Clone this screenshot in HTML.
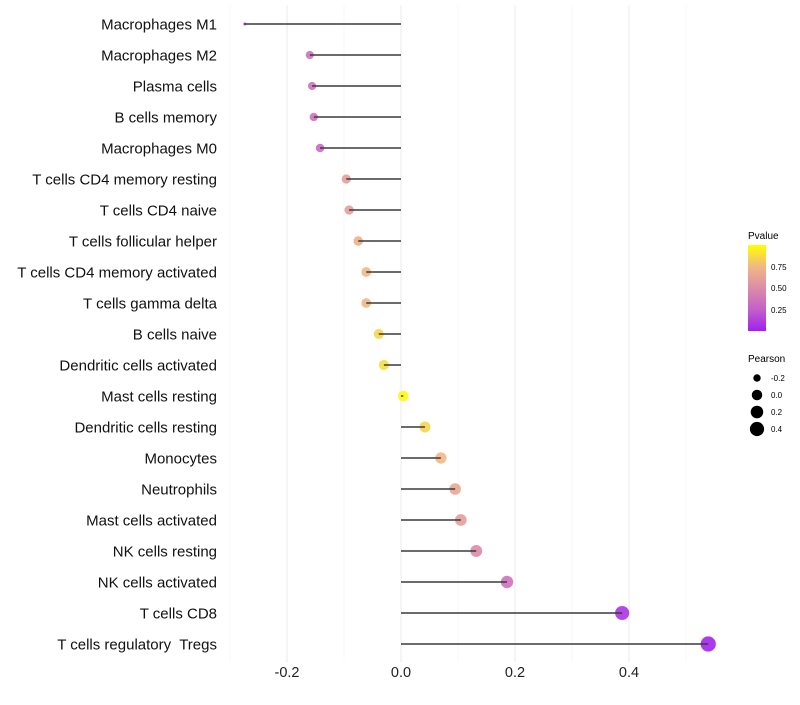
<!DOCTYPE html>
<html><head><meta charset="utf-8"><style>
body{margin:0;background:#fff;font-family:"Liberation Sans",sans-serif;}
svg text{font-family:"Liberation Sans",sans-serif;white-space:pre;}
</style></head><body>
<svg id="chart" width="800" height="700">
<defs><linearGradient id="pg" x1="0" y1="1" x2="0" y2="0">
<stop offset="0" stop-color="#a020f0"/><stop offset="0.25" stop-color="#c460c8"/><stop offset="0.5" stop-color="#dc8ca8"/><stop offset="0.75" stop-color="#f0b884"/><stop offset="1" stop-color="#ffff00"/>
</linearGradient></defs>
<g id="grid"></g><g id="dots"></g><g id="marks"></g><g id="labels"></g>
<g>
<text x="748" y="239" font-size="10">Pvalue</text>
<rect x="748" y="245" width="18" height="86" fill="url(#pg)"/>
<text x="771" y="270" font-size="8">0.75</text>
<text x="771" y="291" font-size="8">0.50</text>
<text x="771" y="313" font-size="8">0.25</text>
</g>
<g id="sizeLegend">
<text x="748" y="362" font-size="10">Pearson</text>
</g>
</svg>
<script>
const categories=["Macrophages M1","Macrophages M2","Plasma cells","B cells memory","Macrophages M0","T cells CD4 memory resting","T cells CD4 naive","T cells follicular helper","T cells CD4 memory activated","T cells gamma delta","B cells naive","Dendritic cells activated","Mast cells resting","Dendritic cells resting","Monocytes","Neutrophils","Mast cells activated","NK cells resting","NK cells activated","T cells CD8","T cells regulatory  Tregs"];
const pearson=[-0.274,-0.160,-0.156,-0.153,-0.142,-0.096,-0.091,-0.075,-0.061,-0.061,-0.039,-0.030,0.004,0.042,0.070,0.095,0.105,0.132,0.186,0.388,0.539];
const pvalue=[0.05,0.35,0.35,0.35,0.3,0.6,0.6,0.7,0.75,0.75,0.85,0.88,0.98,0.85,0.75,0.65,0.6,0.5,0.35,0.08,0.02];
const xTicks=[-0.2,0,0.2,0.4];
const xTickLabels=["-0.2","0.0","0.2","0.4"];
const xMinor=[-0.3,-0.1,0.1,0.3,0.5];
const sizeBreaks=[-0.2,0,0.2,0.4];
const sizeLabels=["-0.2","0.0","0.2","0.4"];
const NS="http://www.w3.org/2000/svg";
const X=v=>401+v*570, Y=i=>24+i*31;
const pmin=Math.min(...pearson),pmax=Math.max(...pearson);
const R=v=>{const t=Math.max(0,(v-pmin)/(pmax-pmin));return 1.5+Math.sqrt(t)*5.6+(t>0?0.5:0);};
const stops=[[0,[160,32,240]],[0.25,[196,96,200]],[0.5,[220,140,168]],[0.75,[240,184,132]],[1,[255,255,0]]];
function col(p){for(let k=1;k<stops.length;k++){if(p<=stops[k][0]||k==stops.length-1){const a=stops[k-1],b=stops[k];const t=Math.min(1,Math.max(0,(p-a[0])/(b[0]-a[0])));const c=a[1].map((v,j)=>Math.round(v+(b[1][j]-v)*t));return `rgb(${c})`;}}}
function mk(tag,attrs,parent){const e=document.createElementNS(NS,tag);for(const k in attrs)e.setAttribute(k,attrs[k]);parent.appendChild(e);return e;}
const grid=document.getElementById('grid'),marks=document.getElementById('marks'),dots=document.getElementById('dots'),labels=document.getElementById('labels');
xMinor.forEach(v=>{const l=mk('line',{x1:X(v),x2:X(v),y1:5,y2:662,stroke:'#f2f2f2','stroke-width':0.6},grid);

});
xTicks.forEach((v,i)=>{const l=mk('line',{x1:X(v),x2:X(v),y1:5,y2:662,stroke:'#ebebeb','stroke-width':1},grid);


const t=mk('text',{x:X(v),y:677,'font-size':14.5,'text-anchor':'middle',fill:'#222'},labels);t.textContent=xTickLabels[i];

});
categories.forEach((c,i)=>{const y=Y(i);
const d=mk('circle',{cx:X(pearson[i]),cy:y,r:R(pearson[i]),fill:col(pvalue[i]),'fill-opacity':0.9},dots);


const s=mk('line',{x1:X(0),x2:X(pearson[i]),y1:y,y2:y,stroke:'#3a3a3a','stroke-width':1.4},marks);


const t=mk('text',{x:217,y:y+5.5,'font-size':15,'text-anchor':'end',fill:'#111'},labels);t.textContent=c;

});
const sl=document.getElementById('sizeLegend');
sizeBreaks.forEach((v,i)=>{const y=378+i*17;
const c=mk('circle',{cx:757,cy:y,r:R(v),fill:'#000'},sl);


const t=mk('text',{x:771,y:y+3,'font-size':8},sl);t.textContent=sizeLabels[i];

});
</script>
</body></html>
